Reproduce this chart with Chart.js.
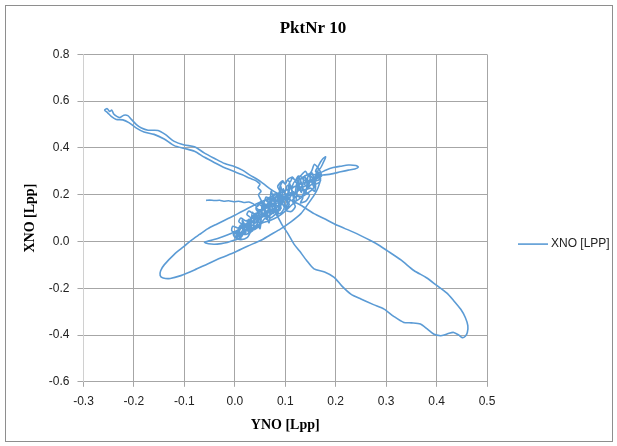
<!DOCTYPE html>
<html>
<head>
<meta charset="utf-8">
<script src="https://cdn.jsdelivr.net/npm/chart.js@4.4.1/dist/chart.umd.min.js"></script>
<style>
  html, body { margin: 0; padding: 0; background: #fff; }
  #frame { position: absolute; left: 5px; top: 5px; width: 606px; height: 435px; border: 1px solid #8e8e8e; }
  #chart { position: absolute; left: 0; top: 0; }
</style>
</head>
<body>
<div id="frame"></div>
<canvas id="chart" width="617" height="446"></canvas>
<script>
// track pieces, [YNO, XNO] in Lpp in the order they were drawn
const startStub = [
    [-0.057, 0.176], [-0.05, 0.177], [-0.04, 0.175], [-0.03, 0.176], [-0.022, 0.172], [-0.012, 0.174],
    [-0.002, 0.17], [0.008, 0.172], [0.018, 0.167], [0.028, 0.169], [0.036, 0.162]
];
const coreA = [
    [0.045, 0.15], [0.052, 0.172], [0.06, 0.158], [0.055, 0.135], [0.068, 0.148], [0.064, 0.125],
    [0.075, 0.14], [0.07, 0.165], [0.082, 0.178], [0.088, 0.16], [0.078, 0.13], [0.09, 0.12], [0.098, 0.145],
    [0.092, 0.175], [0.1, 0.19], [0.085, 0.195], [0.072, 0.18], [0.062, 0.19], [0.058, 0.168], [0.048, 0.16],
    [0.042, 0.14], [0.05, 0.118], [0.062, 0.105], [0.072, 0.118], [0.066, 0.142], [0.055, 0.165], [0.05, 0.185]
];
const armOut = [
    [0.047, 0.2], [0.052, 0.215], [0.046, 0.23], [0.05, 0.245], [0.045, 0.255], [0.04, 0.262], [0.03, 0.27],
    [0.015, 0.285], [0, 0.298], [-0.02, 0.315], [-0.04, 0.337], [-0.06, 0.36], [-0.08, 0.386], [-0.1, 0.398],
    [-0.12, 0.41], [-0.14, 0.438], [-0.16, 0.458], [-0.18, 0.468], [-0.195, 0.485], [-0.21, 0.508],
    [-0.222, 0.52], [-0.235, 0.522], [-0.245, 0.535], [-0.252, 0.55], [-0.258, 0.562]
];
const armTip = [
    [-0.253, 0.568], [-0.248, 0.556], [-0.244, 0.562], [-0.24, 0.545], [-0.234, 0.535], [-0.228, 0.53],
    [-0.22, 0.54], [-0.212, 0.538], [-0.205, 0.522]
];
const armBack = [
    [-0.195, 0.5], [-0.185, 0.485], [-0.172, 0.476], [-0.152, 0.475], [-0.138, 0.458], [-0.12, 0.428],
    [-0.1, 0.413], [-0.08, 0.405], [-0.06, 0.378], [-0.04, 0.355], [-0.02, 0.333], [0, 0.32], [0.015, 0.305],
    [0.03, 0.284], [0.045, 0.265], [0.058, 0.245], [0.07, 0.225], [0.085, 0.205], [0.1, 0.19], [0.115, 0.172],
    [0.131, 0.155]
];
const swingOut = [
    [0.157, 0.119], [0.18, 0.095], [0.203, 0.069], [0.235, 0.04], [0.269, 0.004], [0.285, -0.015],
    [0.302, -0.039], [0.33, -0.08], [0.355, -0.124], [0.38, -0.155], [0.401, -0.189], [0.42, -0.22],
    [0.434, -0.253], [0.448, -0.29], [0.457, -0.325], [0.462, -0.36], [0.461, -0.389], [0.457, -0.405],
    [0.451, -0.411], [0.444, -0.4], [0.434, -0.389], [0.425, -0.392], [0.415, -0.4], [0.408, -0.403]
];
const swingBack = [
    [0.395, -0.397], [0.382, -0.375], [0.368, -0.353], [0.35, -0.348], [0.335, -0.346], [0.315, -0.32],
    [0.296, -0.289], [0.275, -0.27], [0.25, -0.246], [0.23, -0.225], [0.212, -0.19], [0.197, -0.153],
    [0.178, -0.13], [0.157, -0.117], [0.142, -0.08], [0.128, -0.04], [0.117, -0.01], [0.105, 0.035],
    [0.094, 0.07], [0.088, 0.095]
];
const coreB = [
    [0.08, 0.13], [0.092, 0.142], [0.086, 0.165], [0.1, 0.178], [0.108, 0.158], [0.1, 0.135], [0.112, 0.128],
    [0.12, 0.15], [0.114, 0.175], [0.125, 0.195], [0.135, 0.188], [0.13, 0.165], [0.142, 0.175], [0.148, 0.2],
    [0.138, 0.215], [0.15, 0.228], [0.158, 0.215], [0.16, 0.24], [0.152, 0.255], [0.165, 0.262]
];
const bigLoopLower = [
    [0.17, 0.269], [0.165, 0.23], [0.157, 0.197], [0.145, 0.16], [0.131, 0.119], [0.112, 0.085],
    [0.091, 0.054], [0.07, 0.028], [0.051, 0.004], [0.025, -0.02], [0, -0.046], [-0.027, -0.07],
    [-0.054, -0.096], [-0.08, -0.122], [-0.107, -0.146], [-0.128, -0.158], [-0.142, -0.156], [-0.148, -0.145]
];
const bigLoopUpper = [
    [-0.147, -0.125], [-0.14, -0.1], [-0.12, -0.055], [-0.1, -0.02], [-0.087, 0.004], [-0.07, 0.03],
    [-0.054, 0.054], [-0.035, 0.075], [-0.021, 0.09], [0, 0.112], [0.012, 0.126], [0.038, 0.155],
    [0.06, 0.178], [0.08, 0.2], [0.1, 0.218], [0.12, 0.236], [0.14, 0.254], [0.158, 0.268]
];
const sideLoop = [
    [0.165, 0.278], [0.175, 0.284], [0.19, 0.288], [0.21, 0.298], [0.225, 0.305], [0.238, 0.31],
    [0.245, 0.318], [0.24, 0.325], [0.225, 0.327], [0.21, 0.322], [0.195, 0.316], [0.18, 0.305], [0.17, 0.295]
];
const coreC = [
    [0.16, 0.3], [0.165, 0.32], [0.17, 0.34], [0.175, 0.355], [0.18, 0.362], [0.176, 0.34], [0.168, 0.31],
    [0.158, 0.33], [0.152, 0.3], [0.145, 0.285], [0.14, 0.3], [0.13, 0.28], [0.12, 0.26], [0.115, 0.275],
    [0.105, 0.265], [0.1, 0.245], [0.095, 0.26], [0.085, 0.235], [0.09, 0.21], [0.075, 0.2], [0.08, 0.18],
    [0.065, 0.18], [0.07, 0.15], [0.058, 0.16], [0.06, 0.12], [0.045, 0.13], [0.05, 0.1], [0.035, 0.11],
    [0.04, 0.08], [0.025, 0.085], [0.03, 0.06], [0.015, 0.06], [0.02, 0.035], [0.005, 0.04], [0.01, 0.015],
    [0, 0.006]
];
const smallLoop = [
    [-0.015, -0.004], [-0.027, -0.009], [-0.04, -0.012], [-0.052, -0.01], [-0.06, -0.004], [-0.055, 0.0],
    [-0.045, 0.006], [-0.034, 0.013], [-0.015, 0.028], [0, 0.042], [0.02, 0.066], [0.039, 0.092], [0.06, 0.118]
];
const coreD = [
    [0.07, 0.1], [0.085, 0.13], [0.075, 0.16], [0.09, 0.165], [0.1, 0.15], [0.11, 0.18], [0.1, 0.2],
    [0.12, 0.21], [0.13, 0.185], [0.14, 0.22], [0.15, 0.24], [0.16, 0.255], [0.155, 0.225], [0.14, 0.2],
    [0.12, 0.17], [0.1, 0.13], [0.085, 0.105], [0.07, 0.09], [0.055, 0.08], [0.04, 0.06], [0.025, 0.05],
    [0.015, 0.03], [0.005, 0.02], [0.01, 0.05], [0.02, 0.07], [0.035, 0.07], [0.05, 0.1], [0.065, 0.13],
    [0.08, 0.145], [0.07, 0.17], [0.06, 0.15]
];
const coreE = [
    [0.048, 0.128], [0.035, 0.1], [0.022, 0.075], [0.01, 0.05], [0.005, 0.01], [0.015, 0.025], [0.008, 0.04],
    [-0.003, 0.03], [0.002, 0.015], [0.012, 0.008], [0.025, 0.018], [0.03, 0.04], [0.018, 0.05],
    [0.012, 0.035], [0.022, 0.03], [0.035, 0.045], [0.04, 0.065], [0.028, 0.07], [0.024, 0.055],
    [0.038, 0.05], [0.05, 0.07], [0.058, 0.095], [0.068, 0.11], [0.078, 0.125], [0.09, 0.135]
];
const topBumps = [
    [0.09, 0.235], [0.095, 0.255], [0.1, 0.245], [0.104, 0.262], [0.11, 0.255], [0.114, 0.272],
    [0.12, 0.262], [0.126, 0.28], [0.134, 0.275], [0.148, 0.29], [0.16, 0.285], [0.172, 0.28]
];
const coreDown = [
    [0.165, 0.29], [0.155, 0.27], [0.148, 0.285], [0.14, 0.26], [0.132, 0.27], [0.128, 0.245], [0.118, 0.255],
    [0.112, 0.228], [0.104, 0.24], [0.1, 0.215], [0.09, 0.22], [0.088, 0.195], [0.078, 0.2], [0.076, 0.175],
    [0.066, 0.178], [0.066, 0.155], [0.056, 0.158], [0.056, 0.135], [0.046, 0.135], [0.047, 0.112],
    [0.036, 0.11], [0.038, 0.088], [0.027, 0.085], [0.03, 0.062], [0.018, 0.058], [0.022, 0.038],
    [0.01, 0.035], [0.012, 0.012]
];
const coreUp = [
    [0.002, 0.02], [0.012, 0.07], [0.02, 0.03], [0.028, 0.095], [0.035, 0.05], [0.042, 0.12], [0.05, 0.075],
    [0.056, 0.15], [0.063, 0.095], [0.07, 0.175], [0.077, 0.12], [0.083, 0.2], [0.09, 0.14], [0.096, 0.225],
    [0.104, 0.165], [0.11, 0.24], [0.118, 0.19], [0.124, 0.26], [0.132, 0.21], [0.138, 0.28], [0.146, 0.235],
    [0.152, 0.295], [0.16, 0.255], [0.166, 0.31], [0.172, 0.28]
];
const coreEnd = [
    [0.158, 0.265], [0.145, 0.25], [0.15, 0.26], [0.142, 0.24], [0.126, 0.225], [0.132, 0.235],
    [0.125, 0.215], [0.11, 0.2], [0.115, 0.21], [0.108, 0.185], [0.094, 0.175], [0.1, 0.185], [0.092, 0.16],
    [0.076, 0.15], [0.082, 0.16], [0.075, 0.13], [0.06, 0.12], [0.066, 0.135], [0.058, 0.11], [0.044, 0.09],
    [0.05, 0.1], [0.042, 0.068], [0.028, 0.045], [0.032, 0.07], [0.02, 0.05]
];
const coreWide = [
    [0.015, 0.09], [0.03, 0.035], [0.035, 0.125], [0.05, 0.055], [0.055, 0.17], [0.068, 0.08], [0.072, 0.215],
    [0.085, 0.11], [0.09, 0.24], [0.102, 0.14], [0.108, 0.25], [0.12, 0.165], [0.128, 0.27], [0.14, 0.2],
    [0.146, 0.285], [0.158, 0.23], [0.162, 0.3], [0.17, 0.26]
];
const coreCurls = [
    [0.16, 0.245], [0.148, 0.262], [0.138, 0.245], [0.146, 0.228], [0.13, 0.22], [0.122, 0.238],
    [0.112, 0.222], [0.118, 0.205], [0.104, 0.196], [0.096, 0.212], [0.086, 0.2], [0.094, 0.185],
    [0.08, 0.172], [0.07, 0.19], [0.062, 0.175], [0.07, 0.16], [0.058, 0.145], [0.048, 0.158],
    [0.042, 0.145], [0.05, 0.13], [0.038, 0.118], [0.028, 0.13], [0.024, 0.115], [0.032, 0.1],
    [0.022, 0.088], [0.012, 0.1], [0.008, 0.085], [0.016, 0.07], [0.006, 0.058], [-0.004, 0.065],
    [-0.006, 0.045], [0.004, 0.035]
];

const xTicks = [-0.3, -0.2, -0.1, 0.0, 0.1, 0.2, 0.3, 0.4, 0.5];
const yTicks = [-0.6, -0.4, -0.2, 0.0, 0.2, 0.4, 0.6, 0.8];

const track = [].concat(
    startStub, coreA, armOut, armTip, armBack, swingOut, swingBack, coreB,
    bigLoopLower, bigLoopUpper, sideLoop, coreC, smallLoop, coreD, coreE,
    topBumps, coreDown, coreUp, coreEnd, coreWide, coreCurls
).map(p => ({ x: p[0], y: p[1] }));

const tickFont = { family: 'Liberation Sans', size: 12 };
const titleFont = { family: 'Liberation Serif', size: 14, weight: 'bold' };

// excel style legend, drawn in the empty strip right of the plot
const sideLegend = {
    id: 'sideLegend',
    afterDraw(chart) {
        const ctx = chart.ctx;
        const ds = chart.data.datasets[0];
        const x = chart.chartArea.right + 31;
        const y = (chart.chartArea.top + chart.chartArea.bottom) / 2 + 26;
        ctx.save();
        ctx.strokeStyle = ds.borderColor;
        ctx.lineWidth = ds.borderWidth;
        ctx.beginPath();
        ctx.moveTo(x, y);
        ctx.lineTo(x + 30, y);
        ctx.stroke();
        ctx.fillStyle = '#222';
        ctx.font = '12px "Liberation Sans"';
        ctx.textBaseline = 'middle';
        ctx.fillText(ds.label, x + 33, y);
        ctx.restore();
    }
};

new Chart(document.getElementById('chart').getContext('2d'), {
    type: 'scatter',
    data: {
        datasets: [{
            label: 'XNO [LPP]',
            data: track,
            showLine: true,
            borderColor: '#5b9bd5',
            backgroundColor: '#5b9bd5',
            borderWidth: 1.6,
            pointRadius: 0,
            tension: 0.25
        }]
    },
    options: {
        responsive: false,
        animation: false,
        layout: { padding: { left: 22, right: 13, top: 9, bottom: 12 } },
        plugins: {
            title: {
                display: true,
                text: 'PktNr 10',
                color: '#000',
                font: { family: 'Liberation Serif', size: 17, weight: 'bold' },
                padding: { top: 9, bottom: 16 }
            },
            legend: { display: false },
            tooltip: { enabled: false }
        },
        scales: {
            x: {
                type: 'linear',
                min: xTicks[0],
                max: xTicks[xTicks.length - 1],
                afterBuildTicks: axis => { axis.ticks = xTicks.map(v => ({ value: v })); },
                ticks: { color: '#222', font: tickFont, padding: 8, callback: v => v.toFixed(1) },
                grid: { color: '#a6a6a6', tickColor: '#a6a6a6', tickLength: 5 },
                border: { color: '#a6a6a6' },
                title: { display: true, text: 'YNO [Lpp]', color: '#000', font: titleFont, padding: { top: 0, bottom: 0 } }
            },
            y: {
                type: 'linear',
                min: yTicks[0],
                max: yTicks[yTicks.length - 1],
                afterBuildTicks: axis => { axis.ticks = yTicks.map(v => ({ value: v })); },
                ticks: { color: '#222', font: tickFont, padding: 8, callback: v => v.toFixed(1) },
                grid: { color: '#a6a6a6', tickColor: '#a6a6a6', tickLength: 6 },
                border: { color: '#d0d0d0' },
                title: { display: true, text: 'XNO [Lpp]', color: '#000', font: titleFont, padding: { top: 0, bottom: 2 } }
            },
            // empty axis that only keeps room for the legend
            legendRoom: {
                type: 'linear',
                position: 'right',
                grid: { display: false, drawTicks: false },
                border: { display: false },
                ticks: { display: false },
                afterFit: axis => { axis.width = 117; }
            }
        }
    },
    plugins: [sideLegend]
});
</script>
</body>
</html>
